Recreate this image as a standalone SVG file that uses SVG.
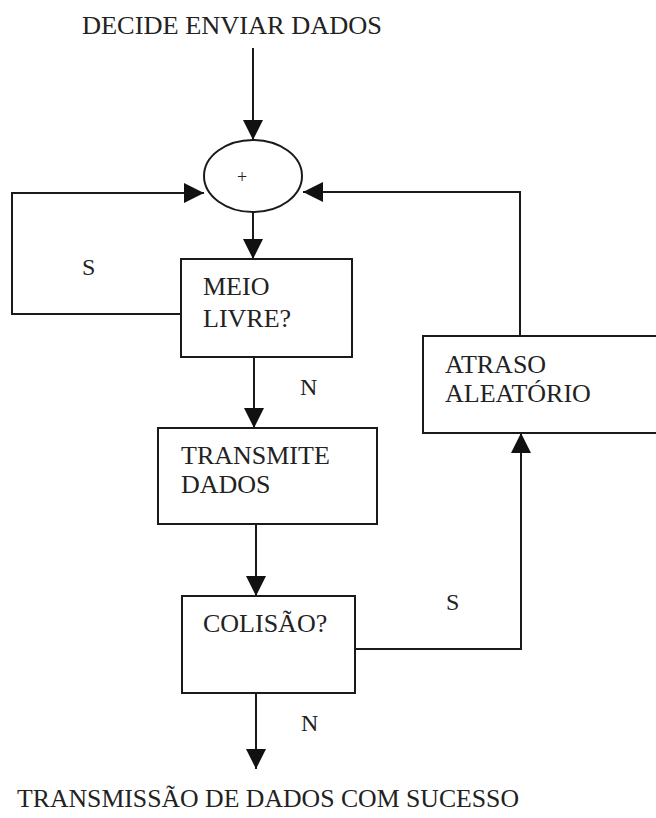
<svg xmlns="http://www.w3.org/2000/svg" width="656" height="818" viewBox="0 0 656 818">
  <style>
    .box { fill: #fff; stroke: #1a1a1a; stroke-width: 2; }
    .wire { fill: none; stroke: #1a1a1a; stroke-width: 2; }
    text { fill: #222; }
  </style>
  <defs>
    <marker id="head" viewBox="0 0 20 20" refX="20" refY="10" markerWidth="20" markerHeight="20" markerUnits="userSpaceOnUse" orient="auto">
      <path d="M0,0 L20,10 L0,20 z" fill="#111"/>
    </marker>
  </defs>

  <rect width="656" height="818" fill="#fff"/>

  <g font-family="Liberation Serif, Times New Roman, serif" font-size="26">
    <text x="82" y="34" textLength="300" lengthAdjust="spacingAndGlyphs">DECIDE ENVIAR DADOS</text>

    <g id="connectors">
      <path class="wire" d="M253,48 V140" marker-end="url(#head)"/>
      <path class="wire" d="M253,212 V259" marker-end="url(#head)"/>
      <path class="wire" d="M181,314 H12 V193 H204" marker-end="url(#head)"/>
      <path class="wire" d="M254,357 V428" marker-end="url(#head)"/>
      <path class="wire" d="M256,524 V596" marker-end="url(#head)"/>
      <path class="wire" d="M355,649 H521 V433" marker-end="url(#head)"/>
      <path class="wire" d="M520,336 V192 H303" marker-end="url(#head)"/>
      <path class="wire" d="M256,694 V769" marker-end="url(#head)"/>
    </g>

    <g id="soma">
      <ellipse class="box" cx="253" cy="176" rx="49" ry="36"/>
      <text x="242" y="183" text-anchor="middle" font-size="18">+</text>
    </g>

    <g id="meio-livre">
      <rect class="box" x="181" y="259" width="171" height="98"/>
      <text x="203" y="295">MEIO</text>
      <text x="203" y="327">LIVRE?</text>
    </g>

    <g id="transmite">
      <rect class="box" x="158" y="428" width="219" height="96"/>
      <text x="181" y="464">TRANSMITE</text>
      <text x="181" y="493">DADOS</text>
    </g>

    <g id="colisao">
      <rect class="box" x="182" y="596" width="173" height="97"/>
      <text x="203" y="632">COLISÃO?</text>
    </g>

    <g id="atraso">
      <rect class="box" x="423" y="336" width="240" height="97"/>
      <text x="445" y="373">ATRASO</text>
      <text x="445" y="402">ALEATÓRIO</text>
    </g>

    <g font-size="24">
      <text x="82" y="275">S</text>
      <text x="300" y="395">N</text>
      <text x="446" y="610">S</text>
      <text x="301" y="731">N</text>
    </g>

    <text x="17" y="807" textLength="502" lengthAdjust="spacingAndGlyphs">TRANSMISSÃO DE DADOS COM SUCESSO</text>
  </g>
</svg>
